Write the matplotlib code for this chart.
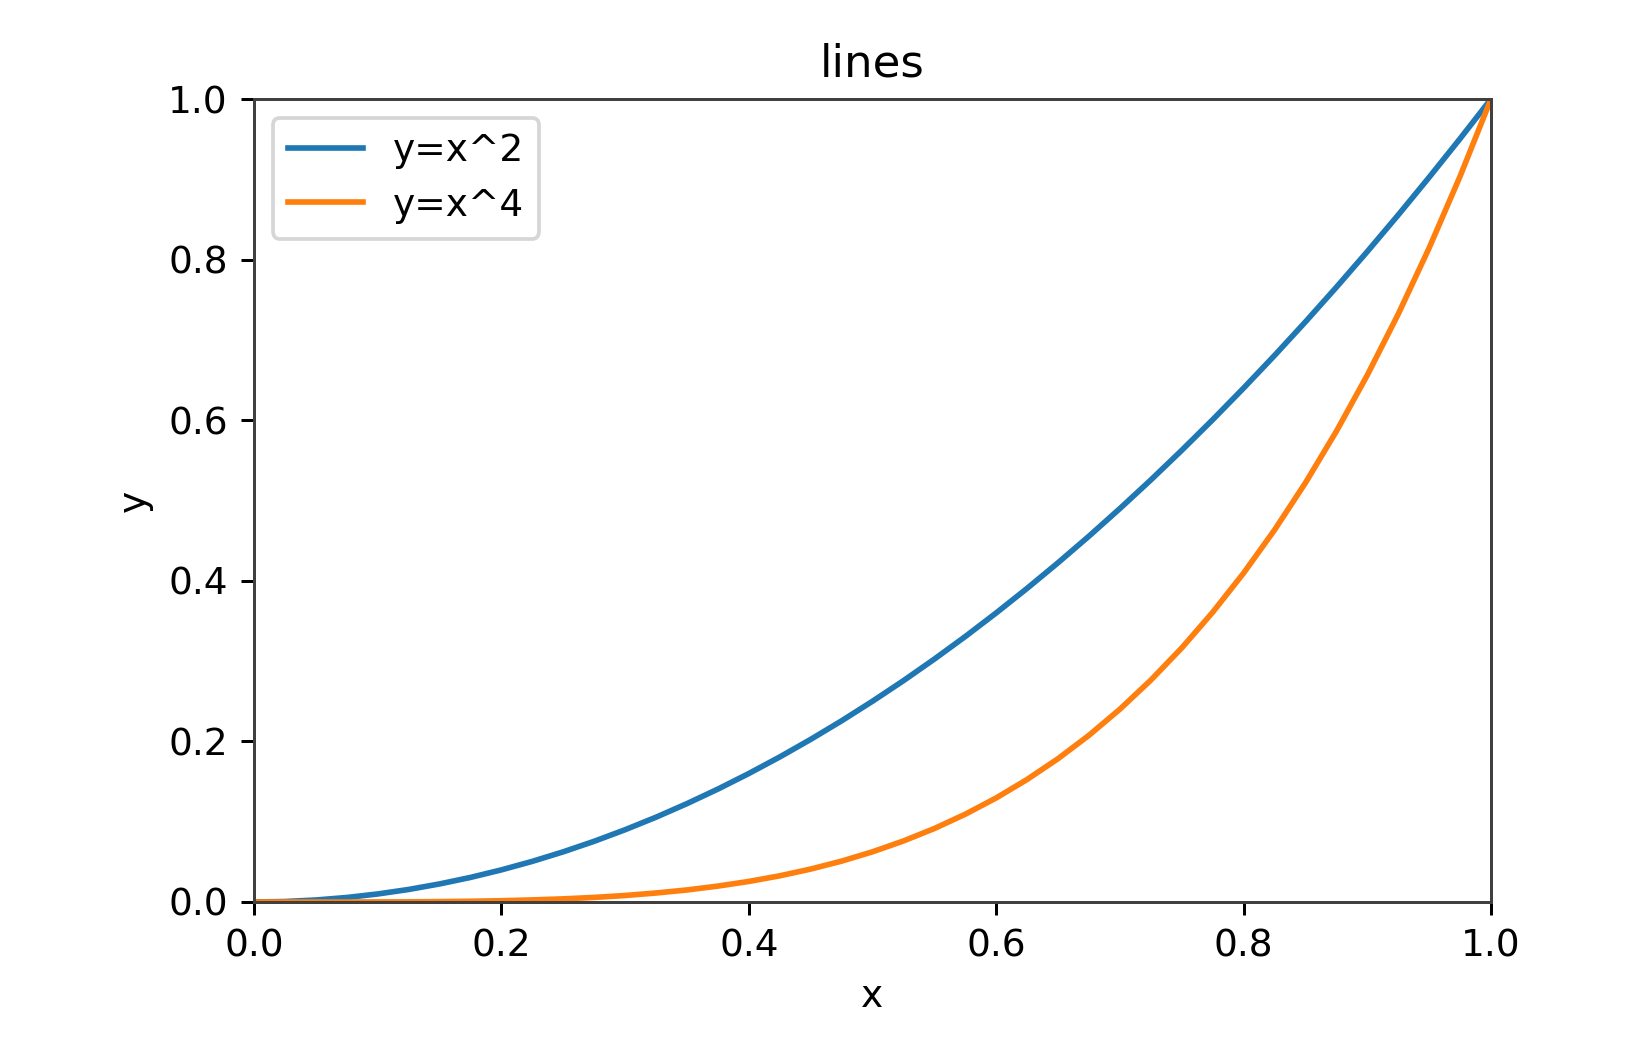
import matplotlib
matplotlib.use("Agg")
import matplotlib.pyplot as plt

# values
x_vals = [0.0, 0.025, 0.05, 0.075, 0.1, 0.125, 0.15, 0.175, 0.2, 0.225, 0.25,
          0.275, 0.3, 0.325, 0.35, 0.375, 0.4, 0.425, 0.45, 0.475, 0.5,
          0.525, 0.55, 0.575, 0.6, 0.625, 0.65, 0.675, 0.7, 0.725, 0.75,
          0.775, 0.8, 0.825, 0.85, 0.875, 0.9, 0.925, 0.95, 0.975, 1.0]
y_sq = [0.0, 0.0006, 0.0025, 0.0056, 0.01, 0.0156, 0.0225, 0.0306, 0.04, 0.0506, 0.0625,
        0.0756, 0.09, 0.1056, 0.1225, 0.1406, 0.16, 0.1806, 0.2025, 0.2256, 0.25,
        0.2756, 0.3025, 0.3306, 0.36, 0.3906, 0.4225, 0.4556, 0.49, 0.5256, 0.5625,
        0.6006, 0.64, 0.6806, 0.7225, 0.7656, 0.81, 0.8556, 0.9025, 0.9506, 1.0]
y_quad = [0.0, 0.0, 0.0, 0.0, 0.0001, 0.0002, 0.0005, 0.0009, 0.0016, 0.0026, 0.0039,
          0.0057, 0.0081, 0.0112, 0.015, 0.0198, 0.0256, 0.0326, 0.041, 0.0509, 0.0625,
          0.076, 0.0915, 0.1093, 0.1296, 0.1526, 0.1785, 0.2076, 0.2401, 0.2763, 0.3164,
          0.3608, 0.4096, 0.4633, 0.522, 0.5862, 0.6561, 0.7321, 0.8145, 0.9037, 1.0]
labels = ["y=x^2", "y=x^4"]

fig = plt.figure(figsize=(1625 / 270, 1062 / 270), dpi=270)
ax = fig.add_axes([254 / 1625, 1 - 902 / 1062, (1491 - 254) / 1625, (902 - 99) / 1062])

ax.plot(x_vals, y_sq, color="#1f77b4", lw=1.5, label=labels[0])
ax.plot(x_vals, y_quad, color="#ff7f0e", lw=1.5, label=labels[1])

ax.set_xlim(0, 1)
ax.set_ylim(0, 1)
ax.set_title("lines", fontsize=12)
ax.set_xlabel("x")
ax.set_ylabel("y")
for s in ax.spines.values():
    s.set_color("#404040")
ax.legend(loc="upper left")

fig.savefig("out.png", dpi=270)
